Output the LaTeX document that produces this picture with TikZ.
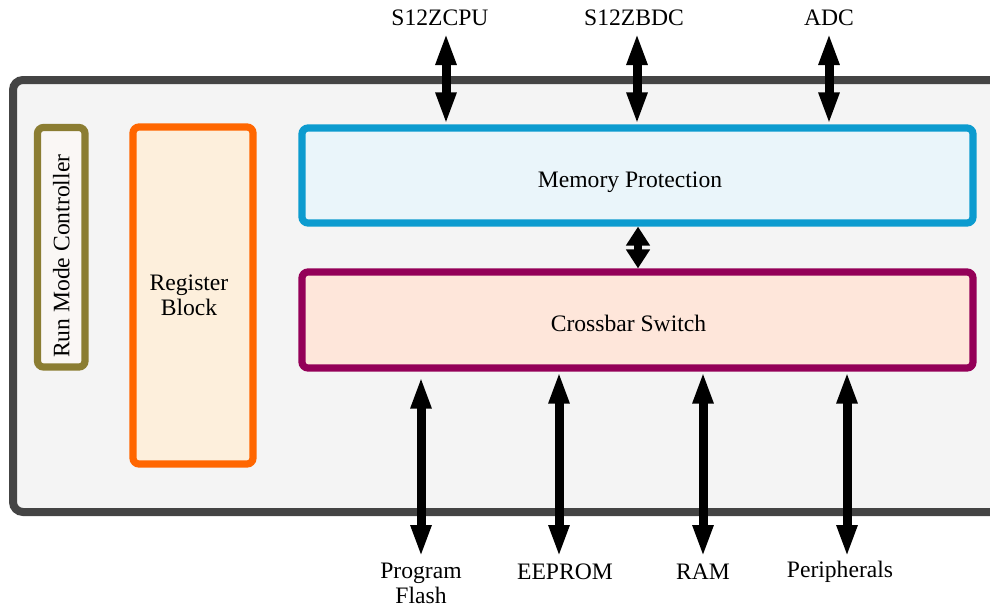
\documentclass[tikz,border=0pt]{standalone}
\usepackage{fontspec}
\setmainfont{Liberation Serif}
\usetikzlibrary{arrows.meta}
\definecolor{outerD}{HTML}{444444}
\definecolor{outerF}{HTML}{F4F4F4}
\definecolor{runD}{HTML}{8B7D32}
\definecolor{runF}{HTML}{FAF7F5}
\definecolor{regD}{HTML}{FF6600}
\definecolor{regF}{HTML}{FDEFDC}
\definecolor{memD}{HTML}{0C9BCF}
\definecolor{memF}{HTML}{EAF5FA}
\definecolor{xbD}{HTML}{940058}
\definecolor{xbF}{HTML}{FEE6DA}
\tikzset{
  blockbox/.style={rectangle, rounded corners=3pt, line width=3.6pt, inner sep=0pt},
  lbl/.style={font=\fontsize{11.8}{12.5}\selectfont, inner sep=0pt, align=center},
  biarrow/.style={line width=4.5pt, {Triangle[length=16pt,width=9.5pt]}-{Triangle[length=16pt,width=9.5pt]}},
  shortbiarrow/.style={line width=4pt, {Triangle[length=9.5pt,width=11.5pt]}-{Triangle[length=9.5pt,width=11.5pt]}}
}
\begin{document}
\begin{tikzpicture}[x=0.5pt,y=-0.5pt]
\useasboundingbox (0,0) rectangle (990,605);
\clip (0,0) rectangle (990,605);
% outer box
\draw[outerD, fill=outerF, line width=4pt, rounded corners=5pt] (13,80) rectangle (1020,512);
% blocks
\node[blockbox, draw=runD, fill=runF, minimum width=23.75pt, minimum height=119.75pt] (run) at (61.25,247.25) {};
\node[lbl, rotate=90] at ([yshift=-4.5pt]run.center) {Run Mode Controller};
\node[blockbox, draw=regD, fill=regF, minimum width=60pt, minimum height=168.5pt] (reg) at (193,295.5) {};
\node[lbl] at ([xshift=-2pt]reg.center) {Register\\Block};
\node[blockbox, draw=memD, fill=memF, minimum width=335.5pt, minimum height=47.5pt] (mem) at (637.5,175.5) {};
\node[lbl] at ([xshift=-3.75pt,yshift=-3.5pt]mem.center) {Memory Protection};
\node[blockbox, draw=xbD, fill=xbF, minimum width=335.5pt, minimum height=48pt] (xb) at (637.5,320) {};
\node[lbl] at ([xshift=-4.5pt,yshift=-1.5pt]xb.center) {Crossbar Switch};
% top labels and arrows
\node[lbl] (cpu) at (440,18) {S12ZCPU};
\node[lbl] (bdc) at (634,18) {S12ZBDC};
\node[lbl] (adc) at (829,18) {ADC};
\coordinate (cpuT) at (446,33);
\coordinate (bdcT) at (637,33);
\coordinate (adcT) at (829,33);
\draw[biarrow] (cpuT) -- (cpuT |- mem.north);
\draw[biarrow] (bdcT) -- (bdcT |- mem.north);
\draw[biarrow] (adcT) -- (adcT |- mem.north);
% middle arrow
\coordinate (midx) at (638,0);
\draw[shortbiarrow] (midx |- mem.south) -- (midx |- xb.north);
% bottom labels and arrows
\node[lbl] (pf) at (421,583) {Program\\Flash};
\node[lbl] (ee) at (565,572) {EEPROM};
\node[lbl] (ram) at (703,572) {RAM};
\node[lbl] (per) at (840,572) {Peripherals};
\coordinate (pfB) at (421,557);
\coordinate (eeB) at (559,557);
\coordinate (ramB) at (703,557);
\coordinate (perB) at (847,557);
\draw[biarrow] ([yshift=-2.5pt]pfB |- xb.south) -- (pfB);
\draw[biarrow] (eeB |- xb.south) -- (eeB);
\draw[biarrow] (ramB |- xb.south) -- (ramB);
\draw[biarrow] (perB |- xb.south) -- (perB);
\end{tikzpicture}
\end{document}
